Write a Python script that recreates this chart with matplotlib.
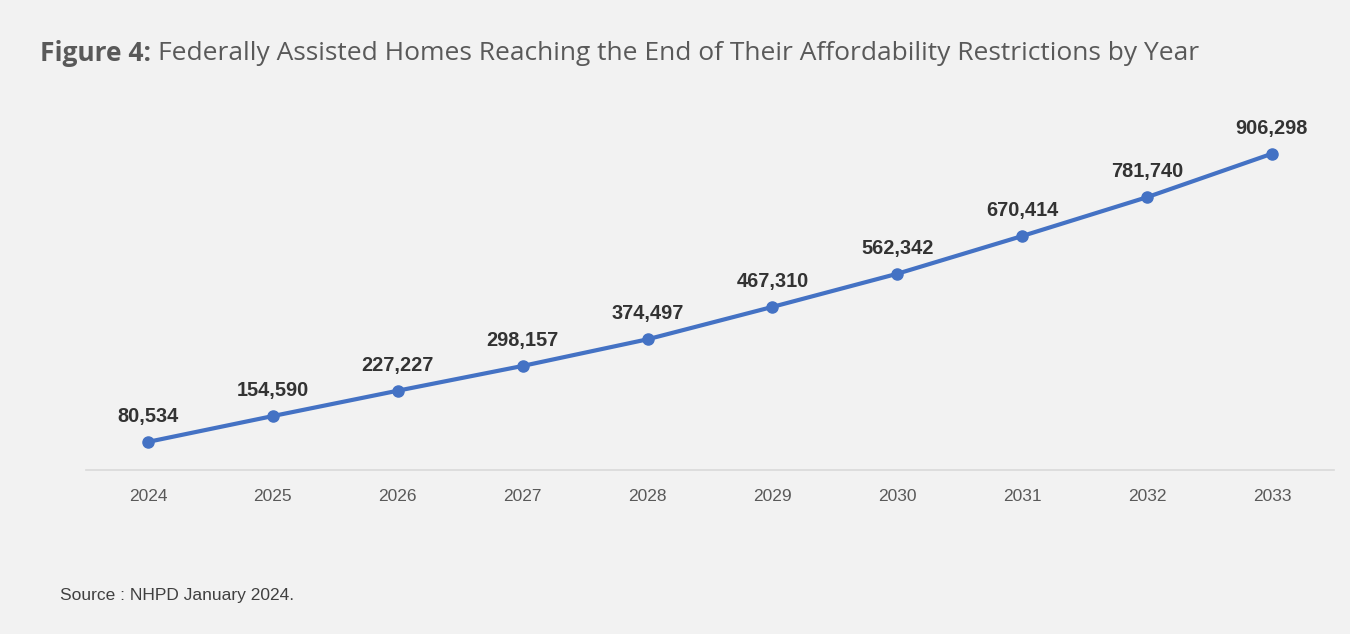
import matplotlib.pyplot as plt
import numpy as np

years = ['2024', '2025', '2026', '2027', '2028', '2029', '2030', '2031', '2032', '2033']
homes = [80534, 154590, 227227, 298157, 374497, 467310, 562342, 670414, 781740, 906298]

BG = '#f2f2f2'
LINE = '#4472c4'

fig = plt.figure(figsize=(13.5, 6.34), dpi=100, facecolor=BG)
ax = fig.add_axes([0.0634, 0.2587, 0.925, 0.5504], facecolor=BG)

x = np.arange(len(years))
ax.plot(x, homes, color=LINE, lw=3.0, marker='o', ms=8, solid_capstyle='round')
for xi, v in zip(x, homes):
    ax.annotate(f'{v:,}', (xi, v), xytext=(0, 11.5), textcoords='offset points',
                ha='center', va='bottom', fontsize=14.4, fontweight='bold',
                color='#333333', family='Liberation Sans')

ax.set_xlim(-0.5, len(years) - 0.5)
ax.set_ylim(0, 1_000_000)
ax.set_xticks(x, years)
ax.set_yticks([])
ax.tick_params(axis='x', length=0, pad=14, labelsize=12.5, labelcolor='#595959')
for lab in ax.get_xticklabels():
    lab.set_family('Liberation Sans')
for s in ['top', 'right', 'left']:
    ax.spines[s].set_visible(False)
ax.spines['bottom'].set_color('#d9d9d9')
ax.spines['bottom'].set_linewidth(1.2)

# title: bold prefix followed by regular text
t1 = fig.text(0.0296, 0.916, 'Figure 4:', fontsize=19, fontweight='bold',
              color='#595959', family='Open Sans', va='center')
fig.canvas.draw()
bb = t1.get_window_extent()
fig.text((bb.x1 + 7) / fig.bbox.width, 0.916,
         'Federally Assisted Homes Reaching the End of Their Affordability Restrictions by Year',
         fontsize=19, color='#595959', family='Open Sans', va='center')

fig.text(0.0444, 0.061, 'Source : NHPD January 2024.', fontsize=12.5,
         color='#404040', family='Liberation Sans', va='center')

fig.savefig('out.png', dpi=100, facecolor=BG)
